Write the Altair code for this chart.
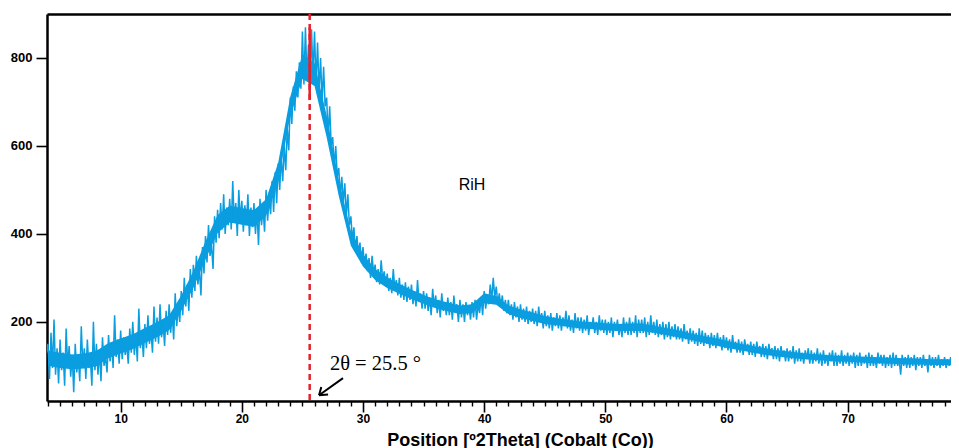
import altair as alt
import pandas as pd

# ---- data ----
x_start = 3.875
x_step = 0.125
intensity = [
    130,
    150, 70, 175, 95, 205, 80, 140, 60,        # 4
    160, 90, 130, 55, 185, 100, 145, 75,       # 5
    125, 40, 150, 85, 120, 65, 190, 100,       # 6
    140, 70, 160, 95, 115, 55, 200, 90,        # 7
    150, 80, 135, 65, 165, 100, 120, 85,       # 8
    170, 110, 150, 95, 215, 120, 160, 105,     # 9
    180, 115, 165, 125, 150, 105, 185, 130,    # 10
    200, 125, 170, 110, 230, 140, 175, 120,    # 11
    195, 140, 215, 150, 180, 130, 235, 155,    # 12
    210, 150, 240, 165, 200, 145, 225, 170,    # 13
    240, 175, 220, 160, 265, 190, 235, 200,    # 14
    270, 215, 300, 235, 285, 225, 320, 255,    # 15
    330, 270, 350, 285, 320, 260, 370, 310,    # 16
    395, 335, 420, 350, 375, 320, 440, 380,    # 17
    455, 390, 470, 410, 490, 400, 460, 420,    # 18
    480, 410, 520, 425, 470, 395, 500, 430,    # 19
    475, 405, 465, 420, 490, 395, 460, 415,    # 20
    470, 400, 455, 375, 480, 420, 460, 405,    # 21
    500, 430, 480, 445, 520, 450, 540, 470,    # 22
    560, 500, 575, 520, 600, 545, 640, 590,    # 23
    710, 650, 735, 680, 770, 710, 790, 730,    # 24
    860, 740, 870, 750, 830, 720, 865, 760,    # 25
    860, 740, 835, 720, 800, 700, 780, 690,    # 26
    710, 620, 690, 600, 620, 550, 600, 530,    # 27
    550, 485, 530, 470, 515, 440, 490, 420,    # 28
    440, 385, 415, 360, 395, 350, 380, 335,    # 29
    370, 325, 355, 315, 345, 300, 350, 310,    # 30
    330, 290, 320, 285, 340, 295, 315, 280,    # 31
    310, 270, 300, 265, 320, 275, 295, 260,    # 32
    300, 255, 285, 250, 290, 245, 280, 250,    # 33
    285, 240, 270, 235, 295, 245, 265, 230,    # 34
    270, 230, 265, 225, 255, 215, 275, 235,    # 35
    260, 220, 250, 210, 265, 225, 245, 215,    # 36
    255, 215, 245, 205, 260, 220, 240, 200,    # 37
    250, 210, 240, 200, 245, 215, 235, 205,    # 38
    245, 210, 250, 205, 240, 220, 255, 215,    # 39
    270, 230, 260, 240, 285, 250, 300, 255,    # 40
    280, 240, 265, 235, 260, 225, 250, 220,    # 41
    250, 215, 240, 205, 245, 210, 235, 200,    # 42
    240, 205, 230, 200, 235, 195, 225, 200,    # 43
    230, 195, 225, 190, 235, 200, 220, 185,    # 44
    225, 190, 215, 185, 220, 180, 210, 190,    # 45
    220, 185, 215, 180, 210, 190, 225, 185,    # 46
    215, 180, 205, 175, 220, 185, 210, 180,    # 47
    210, 175, 205, 180, 215, 170, 200, 185,    # 48
    210, 175, 200, 170, 215, 180, 205, 175,    # 49
    205, 170, 200, 175, 210, 165, 200, 180,    # 50
    205, 170, 195, 165, 210, 175, 200, 170,    # 51
    210, 170, 200, 175, 215, 165, 205, 175,    # 52
    205, 175, 210, 165, 200, 170, 215, 175,    # 53
    200, 170, 205, 165, 195, 170, 200, 160,    # 54
    195, 165, 200, 160, 190, 165, 195, 160,    # 55
    190, 160, 185, 155, 195, 160, 180, 150,    # 56
    185, 155, 180, 150, 175, 145, 185, 150,    # 57
    180, 145, 175, 150, 170, 140, 175, 145,    # 58
    170, 140, 175, 145, 165, 135, 170, 140,    # 59
    165, 135, 160, 130, 170, 140, 155, 130,    # 60
    160, 130, 155, 125, 160, 135, 150, 125,    # 61
    155, 125, 150, 120, 155, 130, 145, 120,    # 62
    150, 120, 145, 115, 150, 125, 140, 115,    # 63
    145, 115, 140, 110, 145, 120, 135, 110,    # 64
    140, 110, 135, 115, 145, 105, 135, 110,    # 65
    140, 110, 130, 105, 135, 115, 140, 105,    # 66
    135, 105, 130, 110, 140, 105, 130, 100,    # 67
    135, 105, 125, 100, 130, 110, 135, 100,    # 68
    130, 100, 125, 105, 135, 100, 125, 105,    # 69
    130, 100, 125, 105, 130, 95, 125, 100,     # 70
    130, 100, 120, 105, 125, 95, 130, 100,     # 71
    125, 100, 120, 95, 130, 105, 125, 100,     # 72
    125, 95, 120, 100, 125, 95, 130, 100,      # 73
    125, 100, 115, 80, 125, 100, 120, 95,      # 74
    125, 95, 120, 100, 125, 90, 120, 100,      # 75
    120, 95, 125, 100, 115, 85, 125, 100,      # 76
    120, 95, 120, 100, 125, 95, 115, 100,      # 77
    120, 95, 115, 100, 120, 95, 120, 100,      # 78
    110,                                       # 79
]

# dense middle of the noisy band, read once per degree (4 .. 79)
band_pos = list(range(4, 80))
band_low = [
    100, 95, 92, 94, 99, 118, 128, 138, 152, 165,       # 4-13
    181, 225, 277, 342, 402, 426, 421, 416, 441, 518,   # 14-23
    668, 752, 736, 620, 486, 373, 326, 295, 277, 264,   # 24-33
    252, 241, 231, 224, 218, 220, 242, 239, 218, 209,   # 34-43
    202, 195, 192, 188, 185, 183, 181, 179, 179, 179,   # 44-53
    175, 170, 165, 159, 153, 147, 141, 136, 131, 126,   # 54-63
    122, 119, 116, 114, 112, 110, 109, 108, 106, 105,   # 64-73
    104, 103, 103, 102, 102, 101,                       # 74-79
]
band_high = [
    135, 130, 126, 128, 134, 152, 162, 172, 186, 199,   # 4-13
    215, 260, 315, 383, 443, 464, 459, 454, 479, 562,   # 14-23
    712, 808, 789, 670, 524, 407, 354, 320, 301, 286,   # 24-33
    273, 261, 251, 244, 237, 240, 265, 259, 237, 228,   # 34-43
    221, 213, 208, 204, 201, 199, 197, 195, 196, 196,   # 44-53
    191, 186, 181, 174, 168, 163, 157, 151, 146, 141,   # 54-63
    136, 133, 130, 127, 125, 123, 122, 121, 120, 119,   # 64-73
    118, 117, 116, 115, 115, 114,                       # 74-79
]

x_major_ticks = [10, 20, 30, 40, 50, 60, 70]
x_minor_ticks = [v for v in range(4, 79) if v % 10 != 0]
y_ticks = [200, 400, 600, 800]
x_domain = [3.92, 78.53]
y_domain = [20, 900]

peak_position = 25.6
peak_label = "2θ = 25.5 °"
sample_label = "RiH"
x_title = "Position [º2Theta] (Cobalt (Co))"

df = pd.DataFrame({
    "pos": [x_start + i * x_step for i in range(len(intensity))],
    "counts": intensity,
})
band_df = pd.DataFrame({"pos": band_pos, "low": band_low, "high": band_high})

xs = alt.Scale(domain=x_domain, nice=False, zero=False)
ys = alt.Scale(domain=y_domain, nice=False, zero=False)

BLUE = "#0A9DE0"
RED = "#E8202A"

band = alt.Chart(band_df).mark_area(color=BLUE, opacity=1, clip=True).encode(
    x=alt.X("pos:Q", scale=xs, axis=alt.Axis(
        values=x_major_ticks, orient="bottom", title=x_title, grid=False,
        tickSize=11, tickWidth=1.6, tickColor="black",
        domainColor="black", domainWidth=2.5,
        labelFontSize=12, labelFontWeight="bold", labelColor="black",
        labelPadding=1, labelFont="Liberation Sans",
        titleFont="Liberation Sans", titleFontSize=18, titleFontWeight="bold",
        titleColor="black", titlePadding=7, titleX=473)),
    y=alt.Y("low:Q", scale=ys, axis=alt.Axis(
        values=y_ticks, orient="left", title=None, grid=False,
        tickSize=11, tickWidth=1.6, tickColor="black",
        domainColor="black", domainWidth=2.5,
        labelFontSize=13, labelFontWeight="bold", labelColor="black",
        labelPadding=4, labelFont="Liberation Sans")),
    y2="high:Q",
)

line = alt.Chart(df).mark_line(color=BLUE, strokeWidth=1.5, clip=True).encode(
    x=alt.X("pos:Q", scale=xs, axis=None),
    y=alt.Y("counts:Q", scale=ys, axis=None),
)

vline_df = pd.DataFrame({"pos": [peak_position]})
vline = alt.Chart(vline_df).mark_rule(color=RED, strokeWidth=2.5, strokeDash=[6, 4]).encode(
    x=alt.X("pos:Q", scale=xs, axis=alt.Axis(
        values=x_minor_ticks, orient="bottom", title=None, labels=False,
        domain=False, grid=False, tickSize=5, tickWidth=1.4, tickColor="black")),
)

seg_df = pd.DataFrame({"pos": [peak_position], "lo": [705], "hi": [869]})
seg = alt.Chart(seg_df).mark_rule(color=RED, strokeWidth=2.5).encode(
    x=alt.X("pos:Q", scale=xs, axis=None),
    y=alt.Y("lo:Q", scale=ys, axis=None),
    y2="hi:Q",
)

arrow_df = pd.DataFrame({
    "x": [28.35, 26.37, 26.37],
    "y": [72, 33, 33],
    "x2": [26.37, 26.56, 27.12],
    "y2": [33, 52, 35],
})
arrow = alt.Chart(arrow_df).mark_rule(color="black", strokeWidth=2).encode(
    x=alt.X("x:Q", scale=xs, axis=None),
    y=alt.Y("y:Q", scale=ys, axis=None),
    x2="x2:Q", y2="y2:Q",
)

peak_text = alt.Chart(pd.DataFrame({"x": [27.27], "y": [105], "t": [peak_label]})).mark_text(
    font="Liberation Serif", fontSize=20.5, color="black", align="left", baseline="middle"
).encode(
    x=alt.X("x:Q", scale=xs, axis=alt.Axis(orient="top", title=None, labels=False, ticks=False,
                                           grid=False, domainColor="black", domainWidth=2.5)),
    y=alt.Y("y:Q", scale=ys, axis=None),
    text="t:N",
)

rih_text = alt.Chart(pd.DataFrame({"x": [39.0], "y": [511], "t": [sample_label]})).mark_text(
    font="Liberation Sans", fontSize=16, color="black", align="center", baseline="middle"
).encode(
    x=alt.X("x:Q", scale=xs, axis=None),
    y=alt.Y("y:Q", scale=ys, axis=None),
    text="t:N",
)

chart = alt.layer(band, line, vline, seg, arrow, peak_text, rih_text).resolve_axis(
    x="independent", y="independent"
).properties(
    width=904, height=387,
    autosize=alt.AutoSizeParams(type="none"),
    padding={"left": 39, "top": 6, "right": 0, "bottom": 47},
).configure_view(strokeWidth=0, stroke="transparent").configure(background="white")

chart.save("out.html", embed_options={"renderer": "svg", "actions": False})
